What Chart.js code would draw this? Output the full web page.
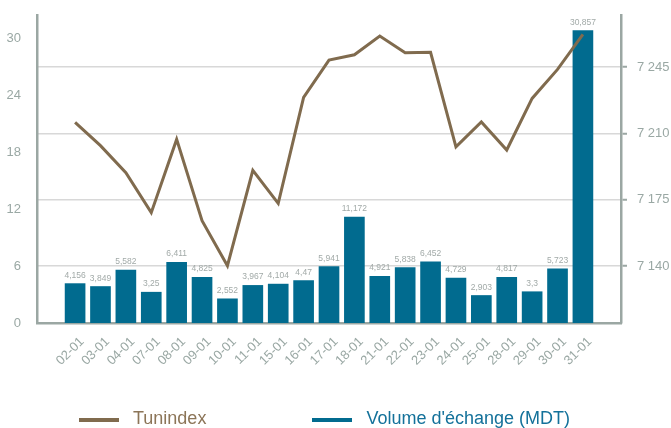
<!DOCTYPE html>
<html>
<head>
<meta charset="utf-8">
<script src="https://cdn.jsdelivr.net/npm/chart.js@4.4.1/dist/chart.umd.min.js"></script>
<style>
  html, body { margin: 0; padding: 0; background: #fff; }
  #wrap { position: relative; width: 671px; height: 428px; }
  #legend {
    position: absolute; left: 79px; top: 409px; white-space: nowrap;
    display: flex; align-items: center;
    font-family: "Liberation Sans", Arial, sans-serif; font-size: 18px; line-height: 18px;
  }
  .item { display: flex; align-items: center; margin-right: 106px; }
  .item:last-child { margin-right: 0; }
  .mark { width: 40px; height: 4px; margin-right: 14px; margin-top: 3px; }
</style>
</head>
<body>
<div id="wrap">
  <canvas id="chart" width="671" height="428"></canvas>
  <div id="legend"></div>
</div>
<script>
const dates = ["02-01", "03-01", "04-01", "07-01", "08-01", "09-01", "10-01", "11-01", "15-01", "16-01", "17-01",
  "18-01", "21-01", "22-01", "23-01", "24-01", "25-01", "28-01", "29-01", "30-01", "31-01"];
const volume = [4.156, 3.849, 5.582, 3.25, 6.411, 4.825, 2.552, 3.967, 4.104, 4.47, 5.941,
  11.172, 4.921, 5.838, 6.452, 4.729, 2.903, 4.817, 3.3, 5.723, 30.857];
const tunindex = [7215.8, 7203.5, 7189.2, 7168.2, 7206.8, 7163.9, 7140.2, 7190.5, 7173.1, 7229.0, 7248.6,
  7251.4, 7261.3, 7252.5, 7252.7, 7202.9, 7216.0, 7201.2, 7228.4, 7243.7, 7262.2];
const volumeTicks = [0, 6, 12, 18, 24, 30];
const indexTicks = [7140, 7175, 7210, 7245];

const axisGrey = "#9ba7a3";
const textGrey = "#9aa8a4";
const brown = "#806b4e";
const blue = "#016b8f";

// small value labels above each bar
const barLabels = {
  id: "barLabels",
  afterDatasetsDraw(chart) {
    const ctx = chart.ctx;
    chart.data.datasets.forEach((ds, i) => {
      if (ds.type !== "bar") return;
      chart.getDatasetMeta(i).data.forEach((bar, j) => {
        ctx.save();
        ctx.font = "8.5px 'Liberation Sans', Arial, sans-serif";
        ctx.fillStyle = "#a2aaa8";
        ctx.textAlign = "center";
        ctx.textBaseline = "bottom";
        ctx.fillText(String(volume[j]).replace(".", ","), bar.x, bar.y - 4);
        ctx.restore();
      });
    });
  }
};

// vertical axes: no extra room reserved above/below for their labels
const noPad = s => { s.paddingTop = 0; s.paddingBottom = 0; };

const chart = new Chart(document.getElementById("chart"), {
  data: {
    datasets: [
      {
        type: "line",
        label: "Tunindex",
        data: tunindex.map((v, i) => ({ x: i, y: v })),
        yAxisID: "y1",
        borderColor: brown,
        backgroundColor: brown,
        borderWidth: 3,
        pointRadius: 0,
        tension: 0,
        order: 0
      },
      {
        type: "bar",
        label: "Volume d'échange (MDT)",
        data: volume.map((v, i) => ({ x: i, y: v })),
        yAxisID: "y",
        backgroundColor: blue,
        barThickness: 20,
        order: 1
      }
    ]
  },
  options: {
    responsive: false,
    animation: false,
    devicePixelRatio: 1,
    layout: { padding: { top: 15, left: 0, right: 0, bottom: 0 } },
    plugins: { legend: { display: false }, tooltip: { enabled: false } },
    font: { family: "'Liberation Sans', Arial, sans-serif" },
    scales: {
      x: {
        type: "linear",
        offset: false,
        min: -1.5,
        max: 21.5,
        grid: { display: false, drawTicks: false },
        border: { display: true, color: axisGrey, width: 2.5 },
        ticks: {
          autoSkip: false,
          minRotation: 45,
          maxRotation: 45,
          padding: 11,
          labelOffset: 7,
          color: textGrey,
          font: { size: 13 },
          callback: v => dates[v] ?? ""
        },
        afterBuildTicks: s => { s.ticks = dates.map((d, i) => ({ value: i })); },
        afterFit: s => { s.height = 105; }
      },
      y: {
        position: "left",
        min: 0,
        max: 32.5,
        grid: { display: false, drawTicks: false },
        border: { display: true, color: axisGrey, width: 2.5 },
        ticks: { color: textGrey, font: { size: 13 }, padding: 16 },
        afterBuildTicks: s => { s.ticks = volumeTicks.map(v => ({ value: v })); },
        afterFit: s => { s.width = 37; noPad(s); }
      },
      y1: {
        position: "right",
        min: 7110,
        max: 7272.4,
        grid: { color: "#d8d8d8", lineWidth: 1.5, tickColor: axisGrey, tickLength: 6, tickWidth: 2 },
        border: { display: true, color: axisGrey, width: 2.5 },
        ticks: {
          color: textGrey, font: { size: 13 }, padding: 10,
          callback: v => String(v).replace(/\B(?=(\d{3})+$)/, " ")
        },
        afterBuildTicks: s => { s.ticks = indexTicks.map(v => ({ value: v })); },
        afterFit: s => { s.width = 50; noPad(s); }
      }
    }
  },
  plugins: [barLabels]
});

// legend below the chart, text in series colours
const legendEl = document.getElementById("legend");
chart.data.datasets.forEach(ds => {
  const item = document.createElement("div");
  item.className = "item";
  const mark = document.createElement("span");
  mark.className = "mark";
  mark.style.background = ds.borderColor || ds.backgroundColor;
  const txt = document.createElement("span");
  txt.textContent = ds.label;
  txt.style.color = ds.type === "line" ? "#8c7558" : "#13719a";
  item.appendChild(mark);
  item.appendChild(txt);
  legendEl.appendChild(item);
});
</script>
</body>
</html>
